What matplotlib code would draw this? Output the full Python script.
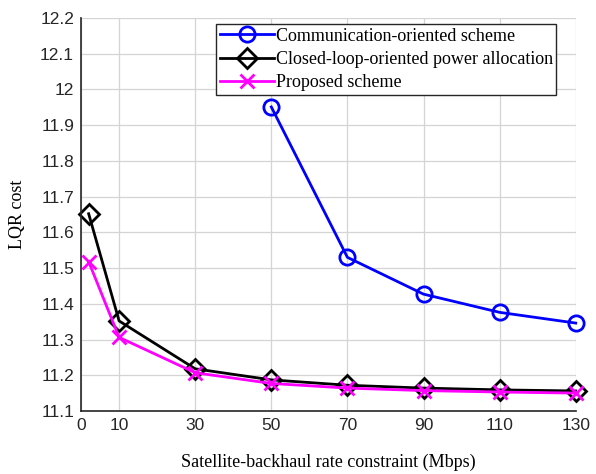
import matplotlib
matplotlib.use("Agg")
import matplotlib.pyplot as plt

x_comm = [50, 70, 90, 110, 130]
y_comm = [11.951, 11.53, 11.427, 11.376, 11.346]

x_cl = [2, 10, 30, 50, 70, 90, 110, 130]
y_cl = [11.652, 11.352, 11.218, 11.187, 11.172, 11.164, 11.159, 11.156]

x_prop = [2, 10, 30, 50, 70, 90, 110, 130]
y_prop = [11.518, 11.306, 11.207, 11.177, 11.164, 11.157, 11.153, 11.150]

xticks = [0, 10, 30, 50, 70, 90, 110, 130]
yticks = [11.1, 11.2, 11.3, 11.4, 11.5, 11.6, 11.7, 11.8, 11.9, 12, 12.1, 12.2]
ytick_labels = ["11.1", "11.2", "11.3", "11.4", "11.5", "11.6", "11.7", "11.8", "11.9", "12", "12.1", "12.2"]

fig = plt.figure(figsize=(5.96, 4.74), dpi=100)
ax = fig.add_axes([0.136, 0.133, 0.830, 0.829])

ax.plot(x_comm, y_comm, color="#0000ff", lw=2, marker="o", ms=11, mfc="none", mew=2,
        label="Communication-oriented scheme", clip_on=False)
ax.plot(x_cl, y_cl, color="black", lw=2, marker="D", ms=10, mfc="none", mew=2,
        label="Closed-loop-oriented power allocation", clip_on=False)
ax.plot(x_prop, y_prop, color="#ff00ff", lw=2, marker="x", ms=10, mew=2,
        label="Proposed scheme", clip_on=False)

ax.set_xlim(0, 130)
ax.set_ylim(11.1, 12.2)
ax.set_xticks(xticks)
ax.set_yticks(yticks)
ax.set_yticklabels(ytick_labels)
ax.tick_params(labelsize=12.5, length=0, pad=5, labelcolor="#262626")
for lab in ax.get_xticklabels() + ax.get_yticklabels():
    lab.set_family("Liberation Sans")

ax.grid(True, color="#d4d4d4", lw=0.9)
ax.set_axisbelow(True)
for s in ["top", "right"]:
    ax.spines[s].set_visible(False)
for s in ["left", "bottom"]:
    ax.spines[s].set_color("#262626")
    ax.spines[s].set_linewidth(1.2)

ax.set_xlabel("Satellite-backhaul rate constraint (Mbps)", family="Liberation Serif", fontsize=13, labelpad=15)
ax.set_ylabel("LQR cost", family="Liberation Serif", fontsize=13, labelpad=10)

leg = ax.legend(loc="upper left", bbox_to_anchor=(216 / 596, 1 - 24 / 474), bbox_transform=fig.transFigure,
                prop={"family": "Liberation Serif", "size": 13}, fancybox=False, edgecolor="#262626",
                framealpha=1, borderpad=0.2, handlelength=3.0, handletextpad=0.1, labelspacing=0.35,
                borderaxespad=0)
leg.get_frame().set_linewidth(1.0)

fig.savefig("out.png", dpi=100)
